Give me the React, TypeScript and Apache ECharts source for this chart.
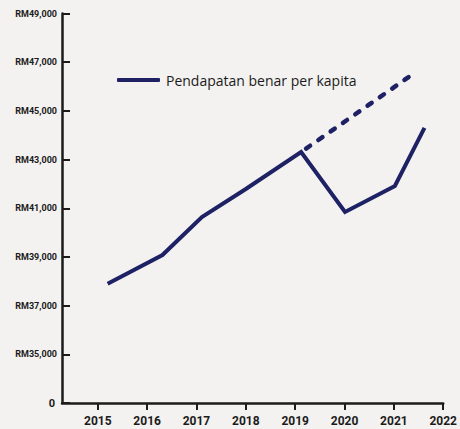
import React, { useEffect, useRef } from "react";
import * as echarts from "echarts";

const seriesName = "Pendapatan benar per kapita";
const years = [2015.2, 2016.31, 2017.11, 2018.0, 2019.12, 2020.01, 2021.02, 2021.62];
const income = [37900, 39080, 40640, 41790, 43310, 40850, 41915, 44300];
const trendYears = [2019.12, 2021.42];
const trendIncome = [43310, 46560];
const xTickYears = [2015, 2016, 2017, 2018, 2019, 2020, 2021, 2022];
const yBreakValue = 33000; // shown as "0" (axis break)

const NAVY = "#1e2264";
const INK = "#1b1b1b";

export default function App() {
  const ref = useRef<HTMLDivElement>(null);
  useEffect(() => {
    if (!ref.current) return;
    const chart = echarts.init(ref.current, null, { renderer: "svg" });
    chart.setOption({
      animation: false,
      backgroundColor: "#f3f2f0",
      grid: { left: 62, right: 14, top: 13.5, bottom: 26, containLabel: false },
      legend: {
        data: [{ name: seriesName, icon: "roundRect" }],
        left: 112,
        top: 68,
        itemWidth: 43,
        itemHeight: 4,
        itemGap: 6,
        textStyle: { fontFamily: "Open Sans", fontSize: 14, color: INK, padding: [0, 0, 0, 1] },
      },
      xAxis: {
        type: "value",
        min: 2014.275,
        max: 2022,
        splitLine: { show: false },
        axisLine: { show: true, lineStyle: { color: INK, width: 2.5 } },
        axisTick: {
          show: true,
          inside: false,
          length: 7,
          lineStyle: { color: INK, width: 2 },
          customValues: xTickYears,
        },
        axisLabel: {
          customValues: xTickYears,
          formatter: (v: number) => String(Math.round(v)),
          fontFamily: "Roboto",
          fontWeight: "bold",
          fontSize: 12,
          color: INK,
          margin: 12,
        },
      },
      yAxis: {
        type: "value",
        min: yBreakValue,
        max: 49000,
        interval: 2000,
        splitLine: { show: false },
        axisLine: { show: true, lineStyle: { color: INK, width: 2.5 } },
        axisTick: { show: true, inside: true, length: 8, lineStyle: { color: INK, width: 2 } },
        axisLabel: {
          margin: 5,
          formatter: (v: number) =>
            v === yBreakValue ? "{z|0}" : "RM" + v.toLocaleString("en-US"),
          fontFamily: "Roboto",
          fontWeight: "bold",
          fontSize: 9,
          color: INK,
          rich: {
            z: { fontFamily: "Roboto", fontWeight: "bold", fontSize: 11, color: INK, padding: [0, 2, 0, 0] },
          },
        },
      },
      series: [
        {
          name: seriesName,
          type: "line",
          data: years.map((y, i) => [y, income[i]]),
          showSymbol: false,
          symbol: "none",
          color: NAVY,
          lineStyle: { color: NAVY, width: 4, join: "miter", cap: "butt" },
        },
        {
          name: "trend",
          type: "line",
          data: trendYears.map((y, i) => [y, trendIncome[i]]),
          showSymbol: false,
          symbol: "none",
          color: NAVY,
          lineStyle: { color: NAVY, width: 4.5, type: [5, 10], cap: "round", dashOffset: -6 },
        },
      ],
    });
    return () => chart.dispose();
  }, []);
  return (
    <div
      ref={ref}
      style={{ position: "fixed", left: 0, top: 0, width: 460, height: 429 }}
    />
  );
}
